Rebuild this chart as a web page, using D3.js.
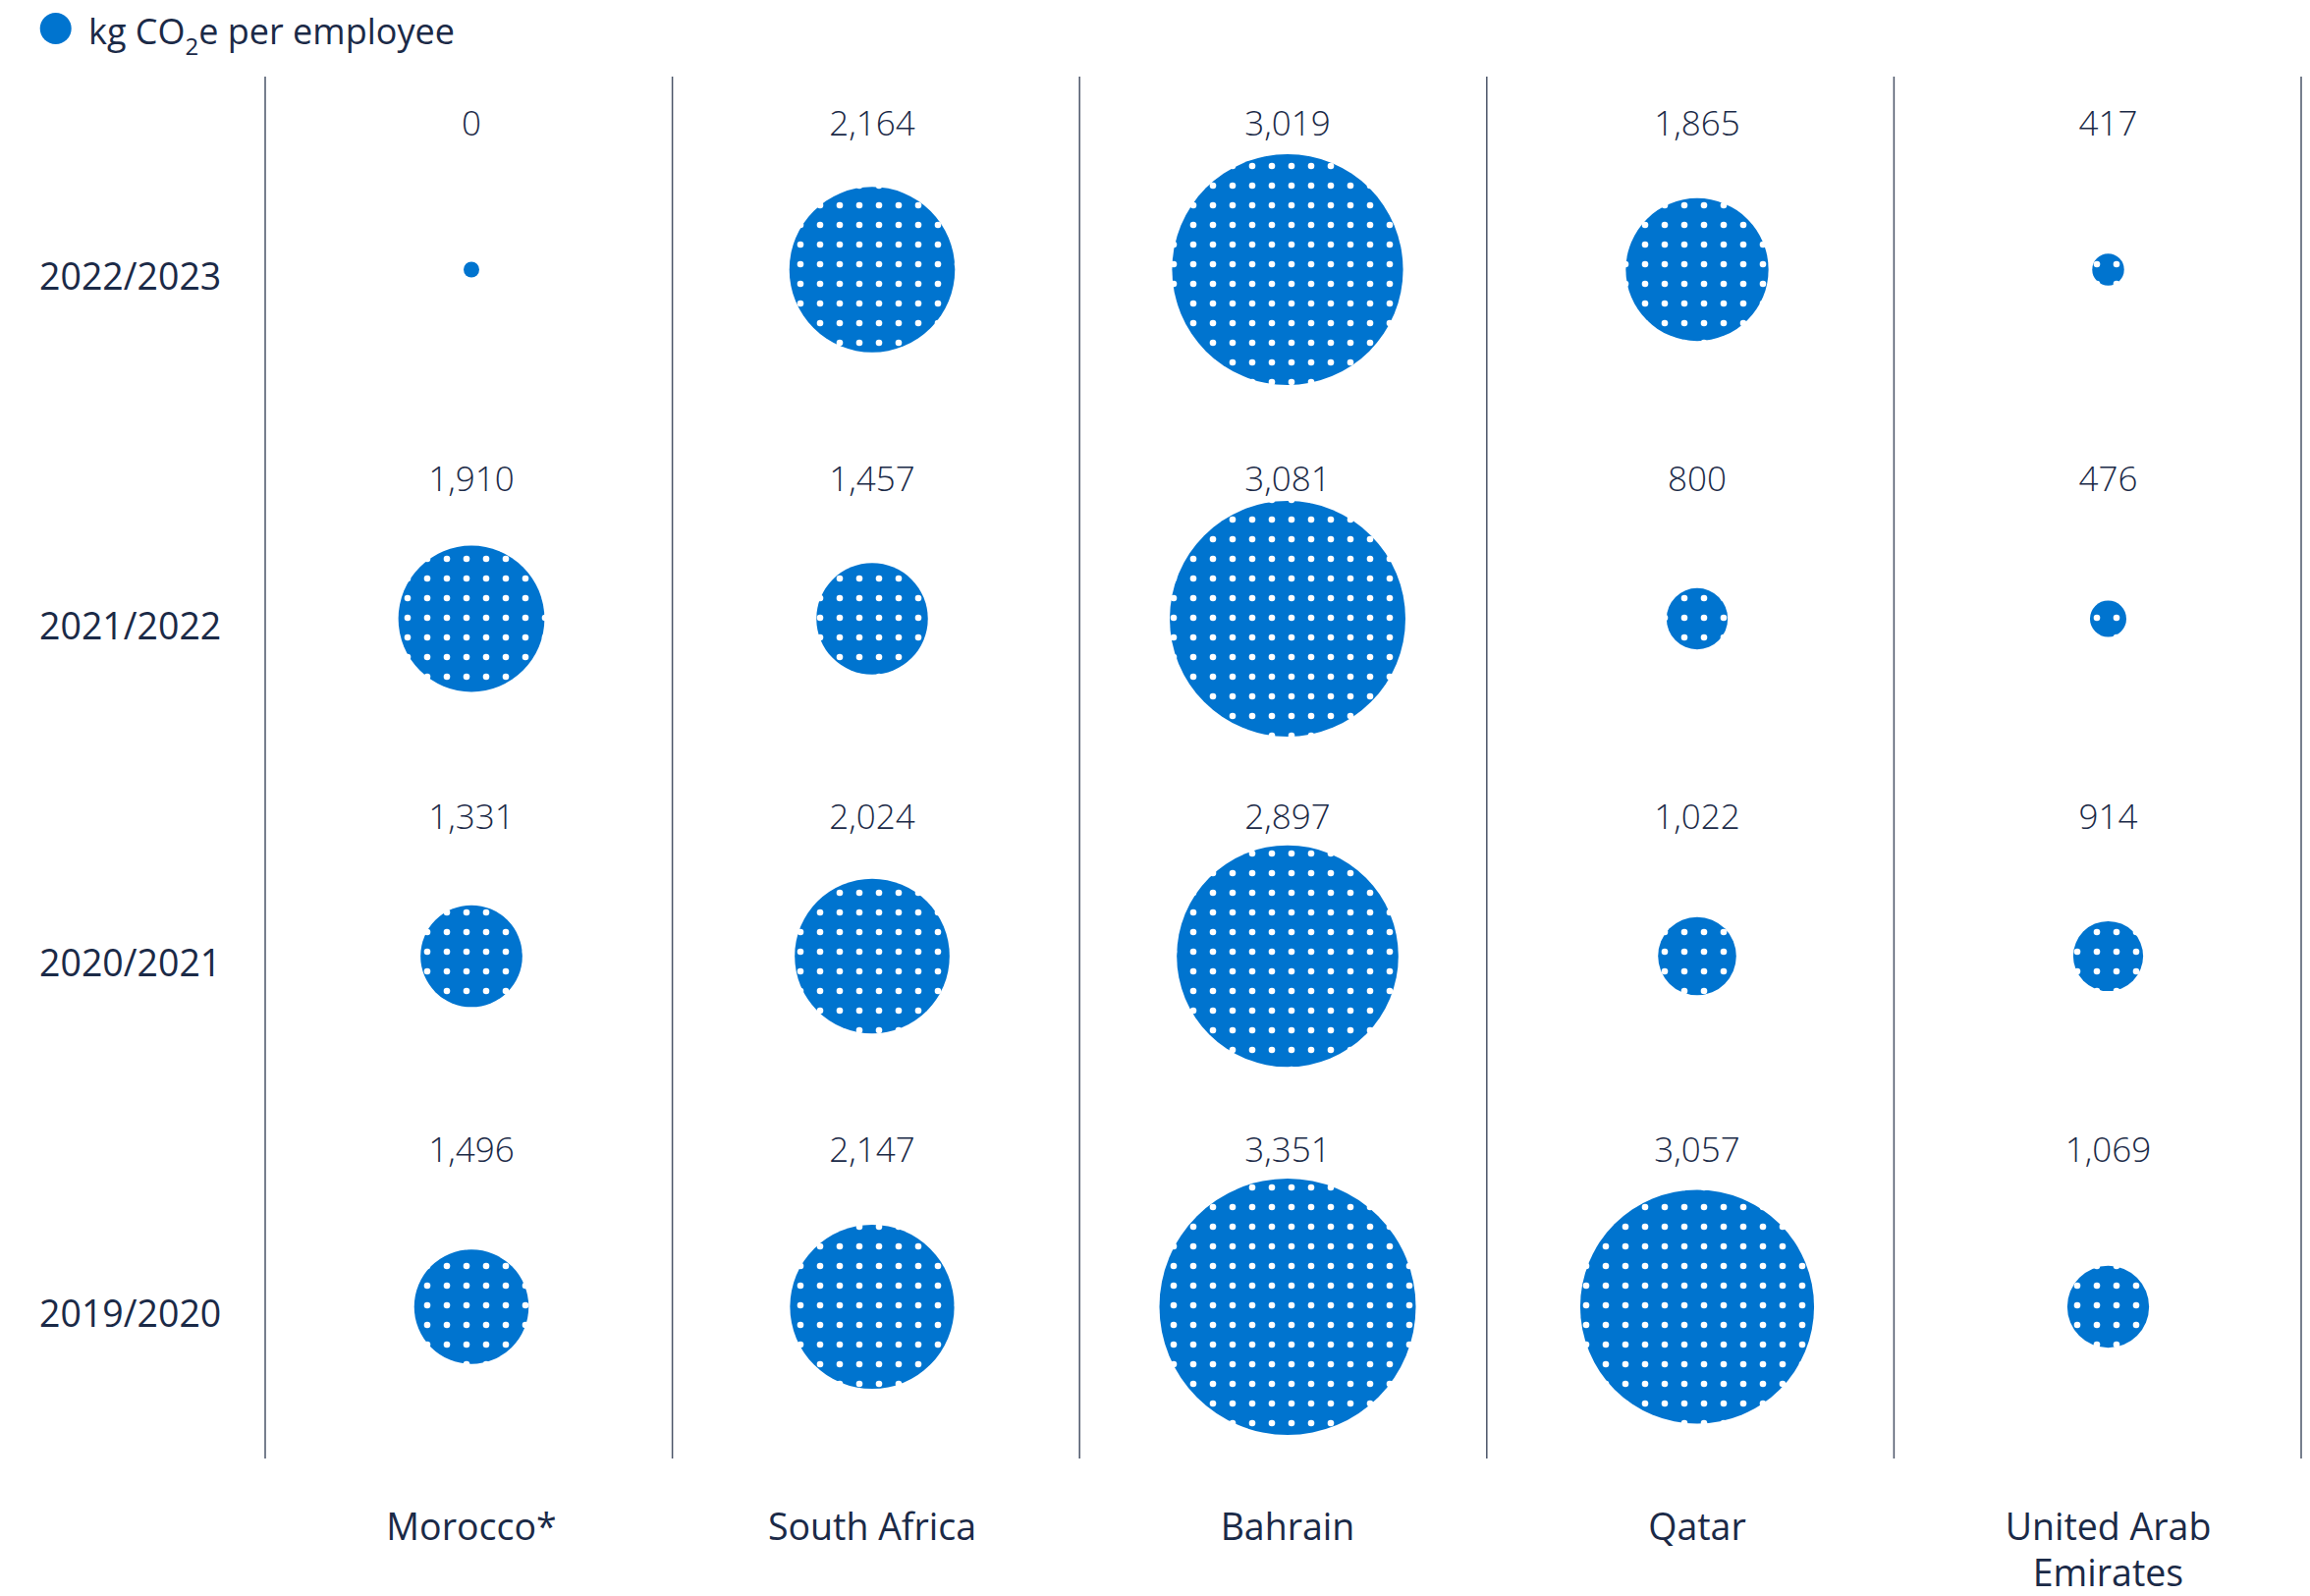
<!DOCTYPE html>
<html>
<head>
<meta charset="utf-8">
<script src="https://cdn.jsdelivr.net/npm/d3@7"></script>
<style>
  html, body { margin: 0; padding: 0; background: #ffffff; }
  svg { display: block; font-family: "Open Sans", "Noto Sans", sans-serif; }
</style>
</head>
<body>
<svg id="chart" width="2352" height="1625"></svg>
<script>
// ---- data ----
const years = ["2022/2023", "2021/2022", "2020/2021", "2019/2020"];
const countries = ["Morocco*", "South Africa", "Bahrain", "Qatar", "United Arab Emirates"];
const values_2022_2023 = [0, 2164, 3019, 1865, 417];
const values_2021_2022 = [1910, 1457, 3081, 800, 476];
const values_2020_2021 = [1331, 2024, 2897, 1022, 914];
const values_2019_2020 = [1496, 2147, 3351, 3057, 1069];
const seriesLabel = ["kg CO", "2", "e per employee"];

const valuesByYear = [values_2022_2023, values_2021_2022, values_2020_2021, values_2019_2020];

// ---- layout ----
const BLUE = "#0074CF";
const TEXT = "#1b2a47";
const colCenters = [480, 888, 1311, 1728, 2146.5];
const rowCenters = [274.5, 630, 973.5, 1330.5];
const rowLabelBaselines = [138, 500, 844, 1183];

const svg = d3.select("#chart");

const x = d3.scaleOrdinal().domain(countries).range(colCenters);
const y = d3.scaleOrdinal().domain(years).range(rowCenters);
const yLabel = d3.scaleOrdinal().domain(years).range(rowLabelBaselines);
const maxV = d3.max(valuesByYear.flat());
const r = d3.scaleLinear().domain([0, maxV]).range([0, 130.5]);
const gridX = d3.scaleLinear().domain([0, countries.length]).range([270, 2343]);

// pattern
const defs = svg.append("defs");
const pat = defs.append("pattern")
  .attr("id", "dots")
  .attr("patternUnits", "userSpaceOnUse")
  .attr("x", 5).attr("y", -1)
  .attr("width", 20).attr("height", 20);
pat.append("rect").attr("width", 20).attr("height", 20).attr("fill", BLUE);
pat.append("circle").attr("cx", 10).attr("cy", 10).attr("r", 3.3).attr("fill", "#ffffff");

// legend
const legend = svg.append("g");
legend.append("circle").attr("cx", 56.7).attr("cy", 29).attr("r", 16).attr("fill", BLUE);
const lt = legend.append("text")
  .attr("x", 90).attr("y", 45)
  .attr("fill", TEXT)
  .attr("font-size", 36);
lt.append("tspan").text(seriesLabel[0]);
lt.append("tspan").attr("font-size", 24).attr("dy", 11).text(seriesLabel[1]);
lt.append("tspan").attr("dy", -11).text(seriesLabel[2]);

// column separators
svg.append("g").selectAll("line")
  .data(d3.range(countries.length + 1))
  .join("line")
  .attr("x1", d => gridX(d)).attr("x2", d => gridX(d))
  .attr("y1", 78).attr("y2", 1485)
  .attr("stroke", "#4a5468")
  .attr("stroke-width", 1.5);

// year labels
svg.append("g").selectAll("text")
  .data(years)
  .join("text")
  .attr("x", 40)
  .attr("y", d => y(d) + 20.5)
  .attr("fill", TEXT)
  .attr("font-size", 37.5)
  .text(d => d);

// bubbles
const cells = [];
years.forEach((yr, i) => {
  countries.forEach((c, j) => {
    cells.push({ year: yr, country: c, value: valuesByYear[i][j] });
  });
});

svg.append("g").selectAll("circle")
  .data(cells)
  .join("circle")
  .attr("cx", d => x(d.country))
  .attr("cy", d => y(d.year))
  .attr("r", d => Math.max(8, r(d.value)))
  .attr("fill", d => d.value > 0 ? "url(#dots)" : BLUE);

// value labels
const fmt = d3.format(",");
svg.append("g").selectAll("text")
  .data(cells)
  .join("text")
  .attr("x", d => x(d.country))
  .attr("y", d => yLabel(d.year))
  .attr("text-anchor", "middle")
  .attr("fill", TEXT)
  .attr("font-size", 35)
  .attr("font-weight", 300)
  .text(d => fmt(d.value));

// category labels (wrapped)
const catG = svg.append("g").selectAll("text")
  .data(countries)
  .join("text")
  .attr("x", d => x(d))
  .attr("y", 1568)
  .attr("text-anchor", "middle")
  .attr("fill", TEXT)
  .attr("font-size", 37.5);

catG.each(function(d) {
  const t = d3.select(this);
  const words = d.split(" ");
  const maxW = 300;
  let lines = [], cur = [];
  const probe = t.append("tspan");
  words.forEach(w => {
    const test = cur.concat([w]).join(" ");
    probe.text(test);
    if (probe.node().getComputedTextLength() > maxW && cur.length) {
      lines.push(cur.join(" "));
      cur = [w];
    } else {
      cur.push(w);
    }
  });
  lines.push(cur.join(" "));
  probe.remove();
  lines.forEach((ln, k) => {
    t.append("tspan")
      .attr("x", x(d))
      .attr("dy", k === 0 ? 0 : 47)
      .text(ln);
  });
});
</script>
</body>
</html>
